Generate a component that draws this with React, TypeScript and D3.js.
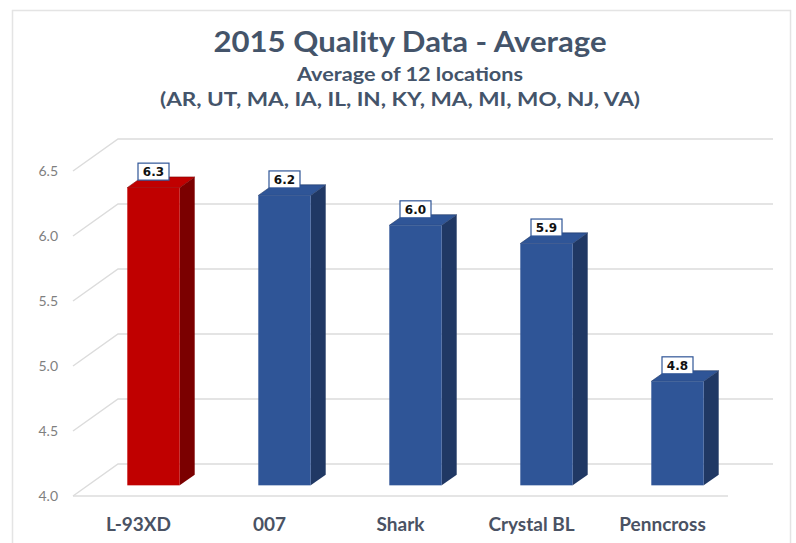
import React, { useEffect, useRef } from 'react'
import * as d3 from 'd3'

// chart data
const categories = ['L-93XD', '007', 'Shark', 'Crystal BL', 'Penncross']
const values = [6.29, 6.23, 6.0, 5.86, 4.8]
const barColors = ['red', 'blue', 'blue', 'blue', 'blue']
const yTicks = [4.0, 4.5, 5.0, 5.5, 6.0, 6.5]
const titleLines = ['2015 Quality Data - Average', 'Average of 12 locations', '(AR, UT, MA, IA, IL, IN, KY, MA, MI, MO, NJ, VA)']

const palette: Record<string, { front: string; side: string; top: string }> = {
  red: { front: '#c00000', side: '#7b0000', top: '#c00000' },
  blue: { front: '#2f5597', side: '#203864', top: '#2f5597' },
}

const W = 796
const H = 543

export default function App() {
  const ref = useRef<SVGSVGElement>(null)

  useEffect(() => {
    const svg = d3.select(ref.current)
    svg.selectAll('*').remove()

    /* depth offset of the back wall */
    const depthX = 45
    const depthY = -32

    const x = d3.scaleBand().domain(categories).range([73, 728]).paddingInner(0.6).paddingOuter(0.3)
    const y = d3.scaleLinear().domain([4, 6.5]).range([496, 171])
    const fmt = d3.format('.1f')

    /* frame */
    svg.append('rect')
      .attr('x', 12.5).attr('y', 10.5)
      .attr('width', 778).attr('height', 540)
      .attr('fill', '#fff')
      .attr('stroke', '#e4e4e4')
      .attr('stroke-width', 1.5)

    /* title (the source picture is stretched a little sideways) */
    const title = svg.append('g').attr('fill', '#44546a').attr('font-family', 'Lato, "Open Sans", sans-serif').attr('font-weight', 700).attr('text-anchor', 'middle')
    title.append('text').attr('x', 410).attr('y', 52).attr('font-size', 28)
      .attr('textLength', 393).attr('lengthAdjust', 'spacingAndGlyphs').text(titleLines[0])
    title.append('text').attr('x', 410).attr('y', 81).attr('font-size', 18.5)
      .attr('textLength', 226).attr('lengthAdjust', 'spacingAndGlyphs').text(titleLines[1])
    title.append('text').attr('x', 400).attr('y', 106).attr('font-size', 18.5)
      .attr('textLength', 480).attr('lengthAdjust', 'spacingAndGlyphs').text(titleLines[2])

    /* gridlines: diagonal from the axis to the back wall, then along it */
    const grid = svg.append('g').attr('stroke', '#dcdcdc').attr('stroke-width', 1.5).attr('fill', 'none')
    yTicks.forEach((t) => {
      const fx = x.range()[0]
      const fy = y(t)
      grid.append('path')
        .attr('d', `M${fx},${fy} L${fx + depthX},${fy + depthY} L${x.range()[1] + depthX},${fy + depthY}`)
    })
    grid.append('line')
      .attr('x1', x.range()[0]).attr('y1', y(4))
      .attr('x2', x.range()[1]).attr('y2', y(4))

    /* y tick labels */
    svg.append('g')
      .selectAll('text')
      .data(yTicks)
      .enter()
      .append('text')
      .attr('x', 58)
      .attr('y', (d) => y(d))
      .attr('dy', '0.35em')
      .attr('text-anchor', 'end')
      .attr('font-family', 'Lato, sans-serif')
      .attr('font-size', 14)
      .attr('fill', '#7f7f7f')
      .text((d) => fmt(d))

    /* bars: front face from depth 1/3 to 2/3 */
    const d0 = 1 / 3
    const d1 = 2 / 3
    const bars = svg.append('g')
    categories.forEach((c, i) => {
      const col = palette[barColors[i]]
      const xl = (x(c) as number) + depthX * d0
      const xr = xl + x.bandwidth()
      const yb = y(4) + depthY * d0
      const yt = y(values[i]) + depthY * d0
      const ox = depthX * (d1 - d0)
      const oy = depthY * (d1 - d0)

      bars.append('path')
        .attr('d', `M${xr},${yb} L${xr + ox},${yb + oy} L${xr + ox},${yt + oy} L${xr},${yt} Z`)
        .attr('fill', col.side)
      bars.append('path')
        .attr('d', `M${xl},${yt} L${xl + ox},${yt + oy} L${xr + ox},${yt + oy} L${xr},${yt} Z`)
        .attr('fill', col.top)
        .attr('stroke', col.side)
        .attr('stroke-width', 0.6)
      bars.append('rect')
        .attr('x', xl).attr('y', yt)
        .attr('width', x.bandwidth()).attr('height', yb - yt)
        .attr('fill', col.front)

      /* data label */
      const cx = xl + x.bandwidth() / 2
      const cy = yt - 16
      bars.append('rect')
        .attr('x', cx - 15.5).attr('y', cy - 8.5)
        .attr('width', 31).attr('height', 17)
        .attr('fill', '#fff')
        .attr('stroke', '#2f5597')
        .attr('stroke-width', 1.2)
      bars.append('text')
        .attr('x', cx).attr('y', cy)
        .attr('dy', '0.36em')
        .attr('text-anchor', 'middle')
        .attr('font-family', '"DejaVu Sans", sans-serif')
        .attr('font-weight', 700)
        .attr('font-size', 12)
        .attr('fill', '#111')
        .text(fmt(values[i]))
    })

    /* category labels */
    svg.append('g')
      .selectAll('text')
      .data(categories)
      .enter()
      .append('text')
      .attr('x', (d) => (x(d) as number) + x.bandwidth() / 2)
      .attr('y', 531)
      .attr('text-anchor', 'middle')
      .attr('font-family', 'Lato, sans-serif')
      .attr('font-weight', 700)
      .attr('font-size', 19)
      .attr('fill', '#4a5263')
      .text((d) => d)
  }, [])

  return (
    <svg ref={ref} width={W} height={H} viewBox={`0 0 ${W} ${H}`}
      style={{ position: 'absolute', left: 0, top: 0, background: '#fff' }} />
  )
}
